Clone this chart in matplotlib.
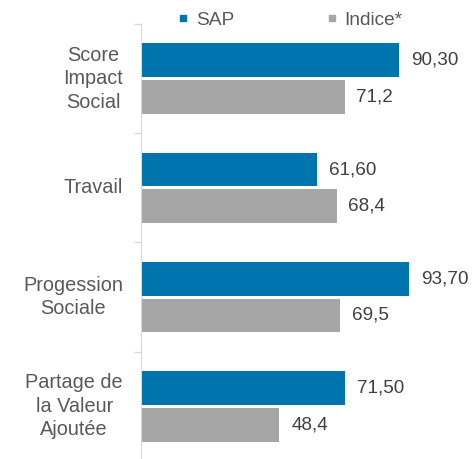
import matplotlib.pyplot as plt
from matplotlib.lines import Line2D

plt.rcParams['font.family'] = ['Liberation Sans', 'DejaVu Sans']

categories = ["Score\nImpact\nSocial", "Travail", "Progession\nSociale", "Partage de\nla Valeur\nAjoutée"]
sap = [90.30, 61.60, 93.70, 71.50]
indice = [71.2, 68.4, 69.5, 48.4]
series_names = ["SAP", "Indice*"]

blue = "#0075AD"
grey = "#A6A6A6"
txt = "#595959"
axis_col = "#D9D9D9"

fig = plt.figure(figsize=(4.77, 4.59), dpi=100)
ax = fig.add_axes([141 / 477, -2 / 459, 336 / 477, 437 / 459])

pos = list(range(len(categories)))
off = 0.168
h = 0.31
ax.barh([p - off for p in pos], sap, height=h, color=blue)
ax.barh([p + off for p in pos], indice, height=h, color=grey)

for p, v in zip(pos, sap):
    ax.annotate(f"{v:.2f}".replace(".", ","), (v, p - off), xytext=(8.5, 0),
                textcoords="offset points", va="center", ha="left",
                fontsize=13.6, color="#404040")
for p, v in zip(pos, indice):
    ax.annotate(f"{v:.1f}".replace(".", ","), (v, p + off), xytext=(8.5, 0),
                textcoords="offset points", va="center", ha="left",
                fontsize=13.6, color="#404040")

ax.set_xlim(0, 117.5)
ax.set_ylim(len(categories) - 0.5, -0.5)

# boundaries get the little tick marks, category names sit on minor ticks
ax.set_yticks([i - 0.5 for i in range(len(categories) + 1)])
ax.set_yticklabels([])
ax.tick_params(axis="y", which="major", length=5, color=axis_col, width=1)
ax.set_yticks(pos, minor=True)
ax.set_yticklabels(categories, minor=True, fontsize=14.3, color=txt,
                   multialignment="center", linespacing=1.3, va="center")
ax.tick_params(axis="y", which="minor", length=0, pad=13)

ax.set_xticks([])
for s in ["top", "right", "bottom"]:
    ax.spines[s].set_visible(False)
ax.spines["left"].set_color(axis_col)

handles = [Line2D([], [], marker="s", ls="none", color=c, markersize=5) for c in (blue, grey)]
fig.legend(handles, series_names, loc="center", bbox_to_anchor=(288 / 477, 1 - 20 / 459),
           ncol=2, frameon=False, fontsize=13.8, labelcolor=txt, handletextpad=0.15,
           columnspacing=4.6, handlelength=1.0)

plt.savefig("out.png", dpi=100)
